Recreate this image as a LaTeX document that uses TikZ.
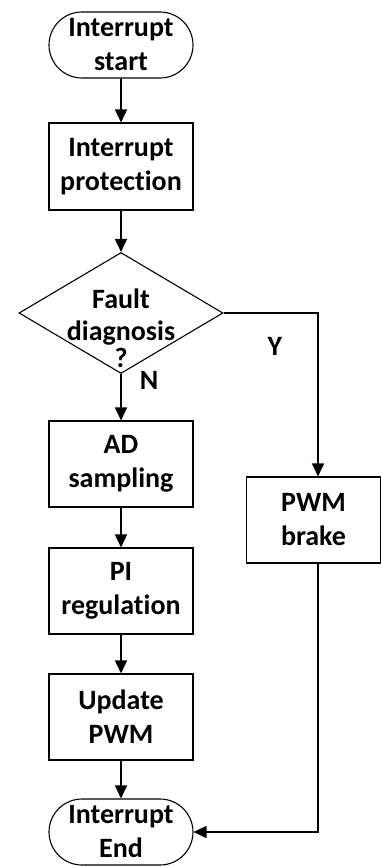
\documentclass[tikz,border=0pt]{standalone}
\usepackage{fontspec}
\setmainfont{Carlito}[Ligatures=NoCommon]
\usetikzlibrary{shapes.geometric,shapes.misc,arrows.meta}
\begin{document}
\begin{tikzpicture}[x=1pt,y=-1pt,
  every node/.style={font=\fontsize{28}{34}\selectfont\bfseries,align=center,inner sep=0pt},
  proc/.style={draw,line width=1.1pt,minimum width=144pt,minimum height=86pt},
  term/.style={draw,line width=1.1pt,rounded rectangle,minimum width=144pt,minimum height=66pt},
  decision/.style={draw,line width=1.1pt,diamond,minimum width=204pt,minimum height=121pt},
  flow/.style={line width=1.6pt,-{Triangle[length=13pt,width=12pt]}}]
\path[use as bounding box,fill=white] (0,0) rectangle (382,866);

\node[term] (start) at (121,45) {Interrupt\\start};
\node[proc,minimum height=87pt] (prot) at (121,166.5) {Interrupt\\protection};
\node[decision] (diag) at (121,313) {};
\node[font=\fontsize{28}{32}\selectfont\bfseries] (diagtxt) at (121,328) {Fault\\diagnosis\\[-5pt]?};
\node[proc] (ad) at (121,464) {AD\\sampling};
\node[proc] (pi) at (121,591) {PI\\regulation};
\node[proc] (upd) at (121,717) {Update\\PWM};
\node[term] (stop) at (121,832) {Interrupt\\End};
\node[proc,minimum width=134pt] (pwm) at (313.5,520) {PWM\\brake};
\node (yes) at (275,346) {Y};
\node (no) at (149,380) {N};
\coordinate (turnY) at (318,313);
\coordinate (turnE) at (318,832);

\draw[flow] (start) -- (prot);
\draw[flow] (prot) -- (diag);
\draw[flow] (diag) -- (ad);
\draw[flow] (ad) -- (pi);
\draw[flow] (pi) -- (upd);
\draw[flow] (upd) -- (stop);
\draw[flow] (diag.east) -- (turnY) -- (pwm.north -| turnY);
\draw[flow] (pwm.south -| turnY) -- (turnE) -- (stop.east);
\end{tikzpicture}
\end{document}
